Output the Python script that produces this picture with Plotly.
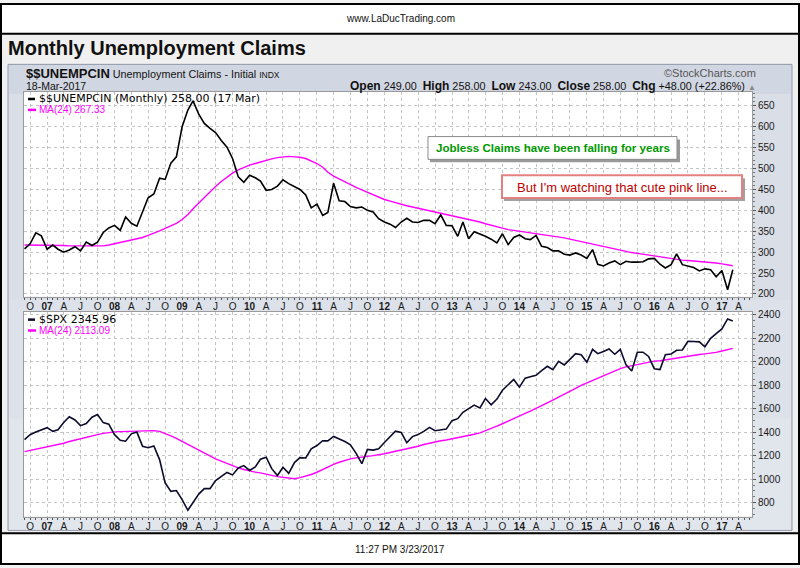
import plotly.graph_objects as go
import pandas as pd

# ---------------- data ----------------
months = pd.date_range("2006-09-01", "2017-03-01", freq="MS")  # monthly bars Sep-2006 .. Mar-2017

claims = [308, 320, 346, 339,
          307, 317, 307, 300, 305, 313, 303, 324, 316, 324, 347, 358,
          364, 352, 384, 369, 362, 399, 430, 439, 477, 474, 513, 528,
          600, 640, 662, 630, 608, 596, 586, 567, 551, 524, 480, 467,
          484, 478, 470, 448, 450, 458, 473, 464, 456, 450, 437, 406,
          415, 388, 395, 465, 423, 421, 409, 406, 408, 400, 396, 380,
          372, 367, 359, 372, 381, 372, 371, 376, 376, 368, 389, 364,
          363, 338, 372, 332, 349, 344, 338, 331, 322, 344, 318, 335,
          341, 332, 330, 340, 314, 311, 303, 303, 295, 293, 298, 293,
          285, 306, 271, 267, 274, 279, 270, 278, 276, 276, 277, 284,
          285, 271, 262, 270, 296, 270, 267, 263, 255, 260, 258, 241,
          256, 210, 258]

claims_ma = [317, 317, 317, 317,
             316, 316, 316, 316, 315, 315, 314, 314, 314, 314, 315, 317,
             320, 323, 326, 330, 332, 335, 340, 345, 351, 357, 363, 369,
             378, 390, 404, 418, 431, 445, 457, 469, 480, 489, 497, 503,
             508, 512, 516, 520, 523, 526, 528, 529, 528, 527, 524, 519,
             512, 503, 491, 482, 475, 468, 461, 455, 449, 443, 437, 431,
             426, 422, 418, 414, 411, 408, 405, 402, 399, 396, 393, 390,
             387, 384, 382, 379, 376, 372, 368, 364, 361, 357, 354, 352,
             350, 348, 347, 345, 343, 341, 339, 336, 334, 331, 328, 325,
             322, 319, 316, 313, 310, 308, 305, 302, 299, 297, 295, 292,
             290, 288, 286, 284, 282, 281, 280, 279, 278, 277, 276, 274,
             272, 270, 267.33]

spx = [1335.9, 1377.9, 1400.6, 1418.3,
       1438.2, 1406.8, 1420.9, 1482.4, 1530.6, 1503.4, 1455.3, 1474.0, 1526.8, 1549.4, 1481.1, 1468.4,
       1378.6, 1330.6, 1322.7, 1385.6, 1400.4, 1280.0, 1267.4, 1282.8, 1166.4, 968.8, 896.2, 903.3,
       825.9, 735.1, 797.9, 872.8, 919.1, 919.3, 987.5, 1020.6, 1057.1, 1036.2, 1095.6, 1115.1,
       1073.9, 1104.5, 1169.4, 1186.7, 1089.4, 1030.7, 1101.6, 1049.3, 1141.2, 1183.3, 1180.6, 1257.6,
       1286.1, 1327.2, 1325.8, 1363.6, 1345.2, 1320.6, 1292.3, 1218.9, 1131.4, 1253.3, 1247.0, 1257.6,
       1312.4, 1365.7, 1408.5, 1397.9, 1310.3, 1362.2, 1379.3, 1406.6, 1440.7, 1412.2, 1416.2, 1426.2,
       1498.1, 1514.7, 1569.2, 1597.6, 1630.7, 1606.3, 1685.7, 1633.0, 1681.6, 1756.5, 1805.8, 1848.4,
       1782.6, 1859.5, 1872.3, 1884.0, 1923.6, 1960.2, 1930.7, 2003.4, 1972.3, 2018.1, 2067.6, 2058.9,
       1995.0, 2104.5, 2067.9, 2085.5, 2107.4, 2063.1, 2103.8, 1972.2, 1920.0, 2079.4, 2080.4, 2043.9,
       1940.2, 1932.2, 2059.7, 2065.3, 2097.0, 2098.9, 2173.6, 2171.0, 2168.3, 2126.2, 2198.8, 2238.8,
       2278.9, 2363.6, 2345.96]

spx_ma = [1234.7, 1245.0, 1254.5, 1263.1,
          1273.8, 1282.3, 1292.3, 1305.8, 1320.0, 1333.0, 1342.2, 1352.8, 1365.2, 1379.4, 1389.1, 1398.3,
          1402.4, 1404.4, 1405.6, 1408.7, 1414.1, 1414.5, 1414.2, 1413.3, 1406.2, 1389.2, 1368.2, 1346.7,
          1321.2, 1293.2, 1267.2, 1241.8, 1216.3, 1192.0, 1172.5, 1153.6, 1134.0, 1112.6, 1096.6, 1081.9,
          1069.2, 1059.8, 1053.4, 1045.1, 1032.1, 1021.7, 1014.8, 1005.1, 1004.0, 1013.0, 1024.8, 1039.6,
          1058.8, 1083.4, 1105.4, 1125.9, 1143.6, 1160.4, 1173.1, 1181.3, 1184.4, 1193.5, 1199.8, 1205.7,
          1215.7, 1226.5, 1236.5, 1245.3, 1254.5, 1268.3, 1279.9, 1294.8, 1307.2, 1316.8, 1326.6, 1333.6,
          1342.4, 1350.2, 1360.4, 1370.1, 1382.0, 1393.9, 1410.3, 1427.6, 1450.5, 1471.5, 1494.7, 1519.4,
          1539.0, 1559.5, 1578.9, 1599.1, 1624.7, 1649.6, 1672.6, 1697.4, 1719.6, 1744.8, 1772.0, 1798.3,
          1819.0, 1843.6, 1864.4, 1884.7, 1904.6, 1923.6, 1941.0, 1955.2, 1965.1, 1978.6, 1990.0, 1998.2,
          2004.8, 2007.8, 2015.6, 2023.2, 2030.4, 2036.2, 2046.3, 2053.3, 2061.4, 2065.9, 2071.4, 2078.9,
          2090.7, 2101.5, 2113.09]

quarter_ticks = pd.date_range("2006-10-01", "2017-04-01", freq="QS-JAN")
quarter_labels = ["O",
                  "<b>07</b>", "A", "J", "O", "<b>08</b>", "A", "J", "O",
                  "<b>09</b>", "A", "J", "O", "<b>10</b>", "A", "J", "O",
                  "<b>11</b>", "A", "J", "O", "<b>12</b>", "A", "J", "O",
                  "<b>13</b>", "A", "J", "O", "<b>14</b>", "A", "J", "O",
                  "<b>15</b>", "A", "J", "O", "<b>16</b>", "A", "J", "O",
                  "<b>17</b>", "A"]
claims_ticks = [200, 250, 300, 350, 400, 450, 500, 550, 600, 650]
spx_ticks = [800, 1000, 1200, 1400, 1600, 1800, 2000, 2200, 2400]

# ---------------- helpers ----------------
W, H = 800, 568
def px(x):
    return x / W
def py(y):
    return 1 - y / H

ARIAL = "Liberation Sans"
VERD = "DejaVu Sans"
MAG = "#ff00ff"

fig = go.Figure()
fig.add_trace(go.Scatter(x=months, y=claims_ma, mode="lines", line=dict(color=MAG, width=1.4),
                         xaxis="x", yaxis="y", hoverinfo="skip"))
fig.add_trace(go.Scatter(x=months, y=claims, mode="lines", line=dict(color="#000000", width=1.6),
                         xaxis="x", yaxis="y", hoverinfo="skip"))
fig.add_trace(go.Scatter(x=months, y=spx_ma, mode="lines", line=dict(color=MAG, width=1.4),
                         xaxis="x2", yaxis="y2", hoverinfo="skip"))
fig.add_trace(go.Scatter(x=months, y=spx, mode="lines", line=dict(color="#0b0b2e", width=1.6),
                         xaxis="x2", yaxis="y2", hoverinfo="skip"))

xrange = ["2006-08-29", "2017-06-13"]
xcommon = dict(type="date", range=xrange, tickvals=quarter_ticks, ticktext=quarter_labels,
               tickfont=dict(family=ARIAL, size=10, color="#1a1a1a"), tickangle=0,
               showgrid=True, gridcolor="#c4c4c4", griddash="dot", gridwidth=1,
               ticks="", showline=True, mirror=True, linecolor="#9a9a9a", linewidth=1,
               zeroline=False,
               minor=dict(ticks="outside", ticklen=2, dtick="M1", tick0="2006-09-01",
                          tickcolor="#555", showgrid=False))
ycommon = dict(side="right", tickfont=dict(family=ARIAL, size=10, color="#1a1a1a"),
               showgrid=True, gridcolor="#c4c4c4", griddash="dot", gridwidth=1,
               ticks="outside", ticklen=3, tickcolor="#555",
               showline=True, mirror=True, linecolor="#9a9a9a", linewidth=1, zeroline=False)

fig.update_layout(
    width=W, height=H, margin=dict(l=0, r=0, t=0, b=0),
    paper_bgcolor="#f2f2f2", plot_bgcolor="white", showlegend=False,
    xaxis=dict(domain=[px(24), px(752)], anchor="y", **xcommon),
    xaxis2=dict(domain=[px(24), px(752)], anchor="y2", **xcommon),
    yaxis=dict(domain=[py(297), py(90)], anchor="x", range=[193, 683], tickvals=claims_ticks,
               minor=dict(ticks="outside", ticklen=2, dtick=10, tickcolor="#777", showgrid=False),
               **ycommon),
    yaxis2=dict(domain=[py(519), py(312)], anchor="x2", range=[682, 2425], tickvals=spx_ticks,
                minor=dict(ticks="outside", ticklen=2, dtick=50, tickcolor="#777", showgrid=False),
                **ycommon),
)

shapes = []
def rect(x0, y0, x1, y1, fill=None, line=None, lw=1, layer="below"):
    shapes.append(dict(type="rect", xref="paper", yref="paper",
                       x0=px(x0), x1=px(x1), y0=py(y1), y1=py(y0),
                       fillcolor=fill if fill else "rgba(0,0,0,0)",
                       line=dict(color=line if line else "rgba(0,0,0,0)", width=lw if line else 0),
                       layer=layer))
def hline(x0, x1, y, color, lw, layer="above"):
    shapes.append(dict(type="line", xref="paper", yref="paper", x0=px(x0), x1=px(x1),
                       y0=py(y), y1=py(y), line=dict(color=color, width=lw), layer=layer))

# page frame and boxes
rect(1, 1, 799, 567, fill="#f0f0f0", line="#000000", lw=2)
rect(1, 1, 799, 31, fill="#ffffff", line="#000000", lw=2)
rect(1, 536, 799, 567, fill="#ffffff", line="#000000", lw=2)
# chart panel (light blue-grey, slightly darker towards the top)
rect(8, 62, 792, 533, fill="#d9dee7", line="#8e97a8", lw=1)
rect(9, 63, 791, 92, fill="#d1d7e2")
rect(9, 300, 791, 532, fill="#dde2ea")
rect(9, 420, 791, 532, fill="#e1e5ec")
# white plot areas (drawn above the panel)
rect(24, 90, 752, 297, fill="#ffffff")
rect(24, 312, 752, 519, fill="#ffffff")

# annotation boxes with shadows
rect(430, 138, 680, 161, fill="#9a9a9a", layer="above")
rect(428, 135, 677, 158, fill="#ffffff", line="#8a8a8a", lw=1, layer="above")
rect(504, 177, 745, 200, fill="#a0a0a0", layer="above")
rect(502, 174, 742, 197, fill="#ffffff", line="#e58080", lw=2, layer="above")

# legend dashes
hline(28, 35, 97, "#000000", 2.5)
hline(28, 36, 108, MAG, 2.5)
hline(28, 35, 320, "#0b0b2e", 2.5)
hline(28, 36, 331, MAG, 2.5)

fig.update_layout(shapes=shapes)

ann = []
def text(x, y, s, size=10, color="#111", family=ARIAL, xanchor="left", bold=False):
    if bold:
        s = "<b>" + s + "</b>"
    ann.append(dict(xref="paper", yref="paper", x=px(x), y=py(y), text=s, showarrow=False,
                    xanchor=xanchor, yanchor="middle",
                    font=dict(family=family, size=size, color=color)))

text(400, 16, "www.LaDucTrading.com", size=10, xanchor="center")
text(400, 552, "11:27 PM 3/23/2017", size=10, xanchor="center")
text(6, 45, "Monthly Unemployment Claims", size=20, bold=True, color="#111")
text(24, 71, "<b><span style='font-size:13px'>$$UNEMPCIN</span></b> Unemployment Claims - Initial "
             "<span style='font-size:8.5px'>INDX</span>", size=10.8)
text(24, 84, "18-Mar-2017", size=10.5)
text(758, 71, "©StockCharts.com", size=11, color="#555", xanchor="right")
text(758, 84, "<b><span style='font-size:12px'>Open</span></b> 249.00  "
              "<b><span style='font-size:12px'>High</span></b> 258.00  "
              "<b><span style='font-size:12px'>Low</span></b> 243.00  "
              "<b><span style='font-size:12px'>Close</span></b> 258.00  "
              "<b><span style='font-size:12px'>Chg</span></b> +48.00 (+22.86%) "
              "<span style='color:#888;font-size:8px'>▲</span>", size=10.8, xanchor="right")

text(37, 97, "$$UNEMPCIN (Monthly) 258.00 (17 Mar)", size=11, family=VERD, color="#000")
text(37, 108, "MA(24) 267.33", size=10, color=MAG)
text(37, 320, "$SPX 2345.96", size=11, family=VERD, color="#000")
text(37, 331, "MA(24) 2113.09", size=10, color=MAG)

text(552.5, 146.5, "Jobless Claims have been falling for years", size=11.6, color="#009900",
     bold=True, xanchor="center")
text(622, 186, "But I'm watching that cute pink line...", size=13, color="#c00000",
     xanchor="center")

fig.update_layout(annotations=ann)
fig.write_html("out.html", config={"displayModeBar": False},
               post_script="document.body.style.margin='0px';document.body.style.padding='0px';")
